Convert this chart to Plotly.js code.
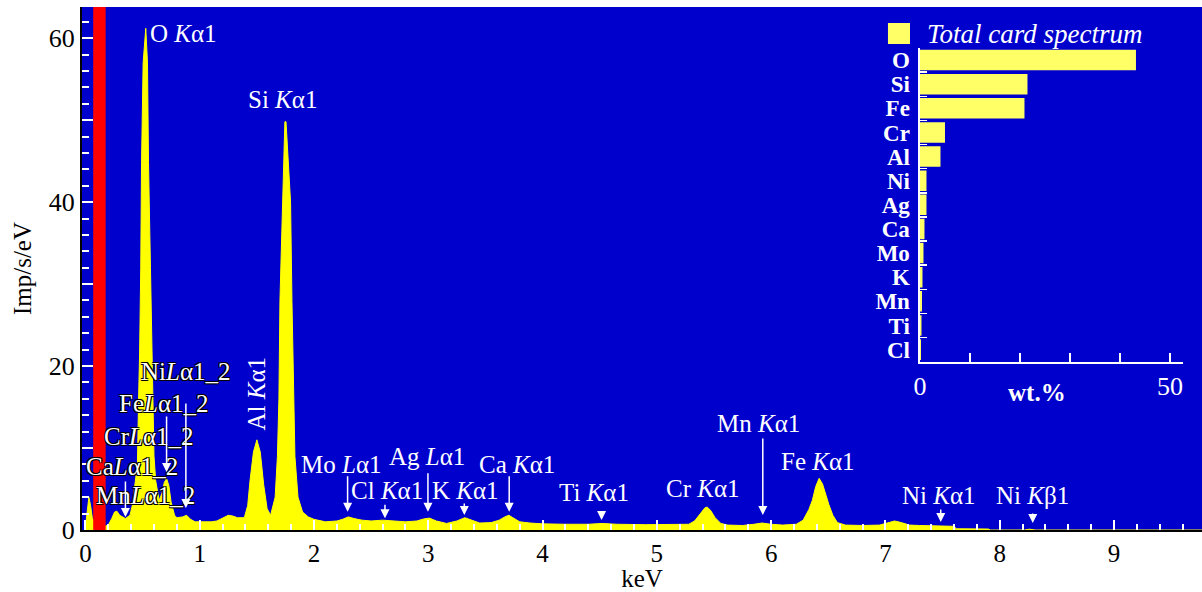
<!DOCTYPE html>
<html>
<head>
<meta charset="utf-8">
<script src="https://cdn.plot.ly/plotly-3.0.1.min.js"></script>
<style>html,body{margin:0;padding:0;background:#fff}#chart{width:1202px;height:592px}</style>
</head>
<body>
<div id="chart"></div>
<script>
// ---------- spectrum (keV vs Imp/s/eV) ----------
const energy = [0.00,0.015,0.03,0.045,0.06,0.09,0.13,0.18,0.20,0.23,0.255,0.275,0.30,0.35,0.39,0.41,0.43,0.455,0.465,0.474,0.484,0.491,0.505,0.522,0.528,0.543,0.552,0.569,0.583,0.590,0.600,0.615,0.630,0.645,0.67,0.69,0.71,0.73,0.75,0.78,0.80,0.85,0.885,0.92,0.96,1.00,1.05,1.10,1.15,1.20,1.25,1.29,1.33,1.39,1.42,1.44,1.47,1.50,1.53,1.56,1.59,1.62,1.66,1.68,1.693,1.702,1.725,1.745,1.755,1.795,1.807,1.82,1.833,1.86,1.90,1.95,2.00,2.10,2.20,2.25,2.30,2.35,2.42,2.50,2.60,2.70,2.80,2.90,2.96,3.01,3.07,3.16,3.25,3.32,3.38,3.45,3.55,3.62,3.67,3.705,3.74,3.80,3.89,4.00,4.20,4.40,4.52,4.65,4.90,5.10,5.28,5.33,5.38,5.42,5.44,5.47,5.51,5.56,5.62,5.75,5.85,5.92,6.00,6.10,6.22,6.28,6.33,6.36,6.39,6.42,6.45,6.48,6.505,6.54,6.58,6.65,6.80,6.95,7.02,7.08,7.14,7.21,7.30,7.42,7.48,7.55,7.60,7.62,7.90,7.92,8.22,8.26,8.31,9.78];
const counts = [0.3,2.5,4.0,3.0,1.5,0.6,0.4,0.5,0.6,1.4,2.2,2.3,1.8,1.4,1.8,3.0,5.0,8.0,16.0,21.6,32.0,44.8,57.0,61.2,61.2,57.0,44.8,32.0,21.6,14.0,9.0,6.0,4.6,3.6,4.5,5.8,6.3,5.4,3.4,1.8,1.5,1.6,1.8,1.3,1.0,1.0,1.0,1.0,1.1,1.4,1.8,1.7,1.5,1.5,3.0,6.0,9.5,11.0,9.5,5.5,2.6,1.8,4.0,9.0,16.0,28.0,40.0,49.8,49.8,40.0,28.0,16.0,9.0,4.0,2.2,1.6,1.3,1.0,1.1,1.3,1.6,1.4,1.2,1.1,1.2,1.1,1.0,1.1,1.35,1.45,1.1,0.8,1.1,1.5,1.2,0.85,0.9,1.2,1.6,1.8,1.5,1.0,0.85,0.75,0.7,0.7,0.8,0.7,0.65,0.65,0.7,1.1,2.0,2.7,2.8,2.4,1.5,0.8,0.6,0.55,0.7,0.85,0.7,0.6,0.7,1.2,2.5,3.6,5.3,6.3,5.6,4.2,3.1,1.8,0.9,0.6,0.55,0.6,0.9,1.1,0.9,0.6,0.55,0.5,0.55,0.5,0.45,0.15,0.12,0.0,0.0,0.1,0.0,0.0];

// ---------- inset: composition ----------
const elements = ["O","Si","Fe","Cr","Al","Ni","Ag","Ca","Mo","K","Mn","Ti","Cl"];
const wtPercent = [43.2,21.5,20.9,5.0,4.1,1.3,1.3,0.9,0.7,0.5,0.4,0.3,0.2];
const insetName = "Total card spectrum";

// ---------- tick labels ----------
const xTickVals = [0,1,2,3,4,5,6,7,8,9];
const yTickVals = [0,10,20,30,40,50,60];
const yTickText = ["0","","20","","40","","60"];
const insetTickVals = [0,10,20,30,40,50];
const insetTickText = ["0","","","","","50"];

// ---------- peak labels ----------
const peakLabels = [
  {t:"O <i>K</i>α1", x:0.573, y:60.6},
  {t:"Si <i>K</i>α1", x:1.430, y:52.5},
  {t:"Mo <i>L</i>α1", x:1.891, y:7.93},
  {t:"Cl <i>K</i>α1", x:2.329, y:4.88},
  {t:"Ag <i>L</i>α1", x:2.664, y:8.94},
  {t:"K <i>K</i>α1", x:3.045, y:4.88},
  {t:"Ca <i>K</i>α1", x:3.456, y:7.93},
  {t:"Ti <i>K</i>α1", x:4.151, y:4.6},
  {t:"Cr <i>K</i>α1", x:5.087, y:5.12},
  {t:"Mn <i>K</i>α1", x:5.534, y:13.05},
  {t:"Fe <i>K</i>α1", x:6.094, y:8.41},
  {t:"Ni <i>K</i>α1", x:7.152, y:4.15},
  {t:"Ni <i>K</i>β1", x:7.974, y:4.15}
];
const lLabels = [
  {t:"Ni<i>L</i>α1_2", x:0.492, y:19.3},
  {t:"Fe<i>L</i>α1_2", x:0.302, y:15.49},
  {t:"Cr<i>L</i>α1_2", x:0.171, y:11.38},
  {t:"Ca<i>L</i>α1_2", x:0.0105, y:7.72},
  {t:"Mn<i>L</i>α1_2", x:0.098, y:4.27}
];
// arrows: tip (keV, counts), tail offset in px
const arrows = [
  {x:0.350, y:1.59, ay:-37},
  {x:0.710, y:7.07, ay:-57},
  {x:0.879, y:2.68, ay:-106},
  {x:2.294, y:2.23, ay:-37},
  {x:2.621, y:1.43, ay:-15},
  {x:2.997, y:2.23, ay:-40},
  {x:3.315, y:1.83, ay:-13},
  {x:3.708, y:2.23, ay:-37},
  {x:4.516, y:1.22, ay:-10},
  {x:5.927, y:1.83, ay:-78},
  {x:7.484, y:0.98, ay:-14},
  {x:8.289, y:0.85, ay:-11}
];
const redBand = [0.068, 0.177];

const SERIF = "Liberation Serif, Times New Roman, serif";
const BLUE = "#0000cc";
const LBL = 25;

const spectrum = {
  type: "scatter", mode: "lines", x: energy, y: counts,
  fill: "tozeroy", fillcolor: "#ffff00",
  line: {color: "#ffff00", width: 1}, hoverinfo: "skip", showlegend: false,
  xaxis: "x", yaxis: "y"
};
const inset = {
  type: "bar", orientation: "h", x: wtPercent, y: elements, name: insetName,
  marker: {color: "#ffff66", line: {width: 0}}, showlegend: false,
  xaxis: "x2", yaxis: "y2"
};

const annotations = [];
peakLabels.forEach(p => annotations.push({
  x: p.x, y: p.y, xref: "x", yref: "y", text: p.t, showarrow: false,
  xanchor: "left", yanchor: "middle", xshift: -2, borderpad: 0,
  font: {family: SERIF, size: LBL, color: "white"}
}));
annotations.push({
  x: 1.498, y: 16.6, xref: "x", yref: "y", text: "Al <i>K</i>α1", showarrow: false,
  textangle: -90, xanchor: "center", yanchor: "middle", borderpad: 0,
  font: {family: SERIF, size: LBL, color: "white"}
});
lLabels.forEach(p => annotations.push({
  x: p.x, y: p.y, xref: "x", yref: "y", text: p.t, showarrow: false,
  xanchor: "left", yanchor: "middle", xshift: -2, borderpad: 0,
  font: {family: SERIF, size: LBL, color: "white",
         shadow: "1px 1px 0 #000, -1px -1px 0 #000, 1px -1px 0 #000, -1px 1px 0 #000"}
}));
arrows.forEach(a => annotations.push({
  x: a.x, y: a.y, xref: "x", yref: "y", text: "", showarrow: true,
  ax: 0, ay: a.ay, arrowcolor: "white", arrowwidth: 1.5, arrowhead: 2, arrowsize: 1.2, standoff: 0
}));
// inset legend text and axis title
annotations.push({
  xref: "paper", yref: "paper", x: 0.7545, y: 0.948, text: "<i>" + insetName + "</i>",
  showarrow: false, xanchor: "left", yanchor: "middle", xshift: -2,
  font: {family: SERIF, size: 27, color: "white"}
});
annotations.push({
  xref: "paper", yref: "paper", x: 0.8527, y: 0.262, text: "<b>wt.%</b>",
  showarrow: false, xanchor: "center", yanchor: "middle",
  font: {family: SERIF, size: 25, color: "white"}
});

const layout = {
  width: 1202, height: 592,
  margin: {l: 82, r: 0, t: 7, b: 62, pad: 0},
  paper_bgcolor: "white", plot_bgcolor: BLUE,
  font: {family: SERIF, size: 22, color: "black"},
  showlegend: false,
  xaxis: {
    domain: [0, 1], range: [-0.03, 9.77], anchor: "y",
    tickmode: "array", tickvals: xTickVals,
    ticks: "inside", ticklen: 10, tickwidth: 2, tickcolor: "white",
    minor: {dtick: 0.2, tick0: 0, ticks: "inside", ticklen: 6, tickwidth: 2, tickcolor: "white", showgrid: false},
    showline: true, linecolor: "black", linewidth: 2,
    showgrid: false, zeroline: false,
    tickfont: {family: SERIF, size: 25, color: "black"},
    title: {text: "keV", font: {family: SERIF, size: 25, color: "black"}, standoff: 5}
  },
  yaxis: {
    domain: [0, 1], range: [0, 63.8], anchor: "x",
    tickmode: "array", tickvals: yTickVals, ticktext: yTickText,
    ticks: "inside", ticklen: 11, tickwidth: 2, tickcolor: "white",
    minor: {dtick: 2, tick0: 0, ticks: "inside", ticklen: 7, tickwidth: 2, tickcolor: "white", showgrid: false},
    showline: true, linecolor: "black", linewidth: 2,
    showgrid: false, zeroline: false,
    tickfont: {family: SERIF, size: 26, color: "black"},
    title: {text: "Imp/s/eV", font: {family: SERIF, size: 25, color: "black"}, standoff: 10}
  },
  xaxis2: {
    domain: [0.7482, 0.9830], range: [0, 52.6], anchor: "y2",
    tickmode: "array", tickvals: insetTickVals, ticktext: insetTickText,
    ticks: "inside", ticklen: 9, tickwidth: 2, tickcolor: "white",
    showline: true, linecolor: "white", linewidth: 2,
    showgrid: false, zeroline: false,
    tickfont: {family: SERIF, size: 26, color: "white"}
  },
  yaxis2: {
    domain: [0.3218, 0.9216], anchor: "x2", type: "category",
    autorange: "reversed", tickmode: "array", tickvals: elements, ticktext: elements,
    ticks: "inside", tickson: "boundaries", ticklen: 7, tickwidth: 1.5, tickcolor: "white",
    showline: true, linecolor: "white", linewidth: 1.5,
    showgrid: false, zeroline: false, ticklabelstandoff: 4,
    tickfont: {family: SERIF, size: 23, color: "white", weight: "bold"}
  },
  bargap: 0.15,
  shapes: [
    {type: "rect", xref: "x", yref: "paper", x0: redBand[0], x1: redBand[1], y0: 0, y1: 1,
     fillcolor: "#ff0000", line: {width: 0}, layer: "above"},
    {type: "rect", xref: "paper", yref: "paper", x0: 0.7196, x1: 0.7393, y0: 0.9293, y1: 0.9694,
     fillcolor: "#ffff66", line: {width: 0}}
  ],
  annotations: annotations
};

Plotly.newPlot("chart", [spectrum, inset], layout, {displayModeBar: false, staticPlot: true});
</script>
</body>
</html>
